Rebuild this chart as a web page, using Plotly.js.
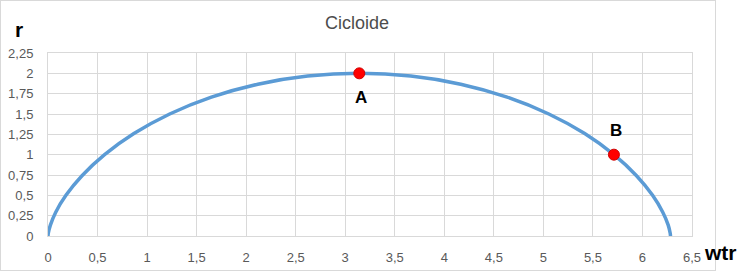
<!DOCTYPE html>
<html>
<head>
<meta charset="utf-8">
<script src="https://cdn.plot.ly/plotly-3.0.1.min.js"></script>
<style>
  html, body { margin: 0; padding: 0; background: #ffffff; }
  #frame { position: absolute; left: 0; top: 0; width: 714px; height: 269px; border: 1px solid #d9d9d9; }
  #chart { position: absolute; left: 0; top: 0; width: 750px; height: 279px; }
</style>
</head>
<body>
<div id="frame"></div>
<div id="chart"></div>
<script>
// Curve values (wtr, r)
const curveX = [0, 0.003, 0.024, 0.078, 0.181, 0.343, 0.571, 0.867, 1.228, 1.649, 2.118, 2.621, 3.142,
                3.662, 4.165, 4.634, 5.055, 5.417, 5.712, 5.940, 6.102, 6.205, 6.260, 6.280, 6.283];
const curveY = [0, 0.034, 0.134, 0.293, 0.5, 0.741, 1.0, 1.259, 1.5, 1.707, 1.866, 1.966, 2.0,
                1.966, 1.866, 1.707, 1.5, 1.259, 1.0, 0.741, 0.5, 0.293, 0.134, 0.034, 0];

// Highlighted points
const pointNames = ['A', 'B'];
const pointX = [3.142, 5.712];
const pointY = [2.0, 1.0];

const chartTitle = 'Cicloide';
const xLabel = 'wtr';
const yLabel = 'r';

const gridColor = '#d9d9d9';
const tickFont = { family: 'Liberation Sans, Arial, sans-serif', size: 13, color: '#595959' };

const traces = [
  {
    x: curveX, y: curveY, type: 'scatter', mode: 'lines',
    line: { color: '#5b9bd5', width: 3.5, shape: 'spline', smoothing: 1 },
    hoverinfo: 'skip', showlegend: false
  },
  {
    x: pointX, y: pointY, type: 'scatter', mode: 'markers',
    marker: { color: '#ff0000', size: 11, line: { color: '#d00000', width: 1 } },
    cliponaxis: false, showlegend: false
  }
];

const labelShifts = [-24, 24];
const annotations = pointNames.map((n, i) => ({
  x: pointX[i], y: pointY[i], xref: 'x', yref: 'y', text: '<b>' + n + '</b>',
  showarrow: false, yshift: labelShifts[i], xshift: 2,
  font: { family: 'Liberation Sans, Arial, sans-serif', size: 17, color: '#000000' }
}));
annotations.push({
  xref: 'paper', yref: 'paper', x: -0.045, y: 1.13, xanchor: 'center', yanchor: 'middle',
  text: '<b>' + yLabel + '</b>', showarrow: false,
  font: { family: 'Liberation Sans, Arial, sans-serif', size: 21, color: '#000000' }
});
annotations.push({
  xref: 'paper', yref: 'paper', x: 1.044, y: -0.09, xanchor: 'center', yanchor: 'middle',
  text: '<b>' + xLabel + '</b>', showarrow: false,
  font: { family: 'Liberation Sans, Arial, sans-serif', size: 21, color: '#000000' }
});

const layout = {
  width: 750, height: 279,
  margin: { l: 48, r: 58, t: 53, b: 43 },
  paper_bgcolor: 'rgba(0,0,0,0)', plot_bgcolor: 'rgba(0,0,0,0)',
  separators: ',.',
  title: {
    text: chartTitle, x: 0.476, xanchor: 'center', y: 0.92, yanchor: 'middle',
    font: { family: 'Liberation Sans, Arial, sans-serif', size: 18, color: '#4d4d4d' }
  },
  xaxis: {
    range: [0, 6.5], dtick: 0.5, tick0: 0, showgrid: true, gridcolor: gridColor, gridwidth: 1,
    zeroline: true, zerolinecolor: gridColor, zerolinewidth: 1,
    showline: true, linecolor: gridColor, linewidth: 1, mirror: true,
    ticks: '', ticklabelstandoff: 9, tickfont: tickFont, fixedrange: true
  },
  yaxis: {
    range: [0, 2.25], dtick: 0.25, tick0: 0, showgrid: true, gridcolor: gridColor, gridwidth: 1,
    zeroline: true, zerolinecolor: gridColor, zerolinewidth: 1,
    showline: true, linecolor: gridColor, linewidth: 1, mirror: true,
    ticks: '', ticklabelstandoff: 11, tickfont: tickFont, fixedrange: true
  },
  annotations: annotations,
  showlegend: false
};

Plotly.newPlot('chart', traces, layout, { displayModeBar: false, staticPlot: true });
</script>
</body>
</html>
